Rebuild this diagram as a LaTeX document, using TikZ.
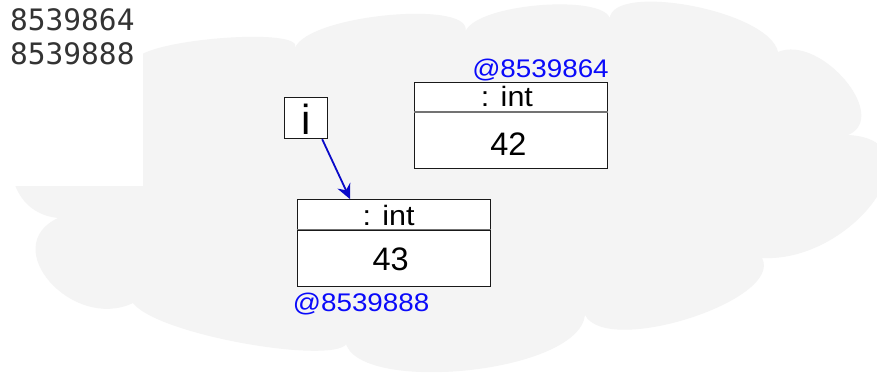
\documentclass[tikz,border=0pt]{standalone}
\usepackage{fontspec}
\setmainfont{Liberation Sans}
\newfontfamily\widefont[FakeStretch=1.09]{Liberation Sans}
\newfontfamily\consolefont{DejaVu Sans Mono}
\usetikzlibrary{arrows.meta,calc}
\definecolor{cloudgray}{RGB}{244,244,244}
\definecolor{addrblue}{RGB}{10,10,250}
\definecolor{refblue}{RGB}{10,10,200}

\begin{document}
\begin{tikzpicture}[x=1pt,y=-1pt,
  hdr/.style={draw=black!90, fill=white, line width=0.9pt, minimum width=193pt,
    minimum height=29.5pt, inner sep=0pt, anchor=north west},
  body/.style={draw=black!90, fill=white, line width=0.9pt, minimum width=193pt,
    minimum height=56pt, inner sep=0pt, anchor=north},
  divider/.style={draw=black!55, line width=1.4pt},
  typelbl/.style={font=\widefont\fontsize{28}{28}\selectfont, anchor=base, inner sep=0pt},
  vallbl/.style={font=\fontsize{32.5}{32.5}\selectfont, anchor=base, inner sep=0pt},
  addr/.style={font=\widefont\fontsize{25.5}{25.5}\selectfont, text=addrblue,
    inner sep=0pt, anchor=base west},
  console/.style={font=\consolefont\fontsize{29.5}{29.5}\selectfont, text=black!80,
    inner sep=0pt, anchor=base west},
  varbox/.style={draw=black!90, fill=white, line width=0.9pt, minimum width=43pt,
    minimum height=41pt, inner sep=0pt, anchor=north west},
  varlbl/.style={font=\fontsize{42}{42}\selectfont, anchor=base, inner sep=0pt},
  ref/.style={draw=refblue, line width=1.8pt,
    -{Stealth[length=15pt,width=14pt,inset=5pt]}}
]
\useasboundingbox (0,0) rectangle (877,372);
\fill[white] (0,0) rectangle (877,372);

% heap cloud
\fill[cloudgray] (10,160) -- (10,60) -- (135,60)
  .. controls (145.7,38.7) and (305.7,26.7) .. (295,48)
  .. controls (308.3,14) and (478.3,-1) .. (465,33)
  .. controls (472.3,2.3) and (617.3,-7.7) .. (610,23)
  .. controls (600.7,-20.3) and (768.7,8.7) .. (778,52)
  .. controls (820.7,34) and (890.7,117) .. (848,135)
  .. controls (941,139.7) and (855,262.7) .. (762,258)
  .. controls (784,300) and (607,357) .. (585,315)
  .. controls (578.3,376.3) and (338.3,396.3) .. (345,335)
  .. controls (373,371) and (161,339) .. (133,303)
  .. controls (72.3,331.7) and (-2.7,246.7) .. (58,218)
  .. controls (30,215) and (12,195) .. (10,160) -- cycle;

% console output area
\fill[white] (0,0) rectangle (143.3,185.5);
\node[console] (out1) at (10,30) {8539864};
\node[console] (out2) at (10,64.3) {8539888};

% object holding 42
\node[hdr] (h42) at (414,81.7) {};
\node[body] (b42) at (h42.south) {};
\draw[divider] (h42.south west) -- (h42.south east);
\node[typelbl] (t42) at ($(h42.south)+(-4pt,6pt)$) {: int};
\node[vallbl] (v42) at ($(b42.south)+(-2.5pt,13.4pt)$) {42};
\node[addr, anchor=base east] (a42) at ($(h42.north east)+(1pt,4.4pt)$) {@8539864};

% object holding 43
\node[hdr] (h43) at (296.7,199.3) {};
\node[body] (b43) at (h43.south) {};
\draw[divider] (h43.south west) -- (h43.south east);
\node[typelbl] (t43) at ($(h43.south)+(-5pt,4pt)$) {: int};
\node[vallbl] (v43) at ($(b43.south)+(-3pt,16.5pt)$) {43};
\node[addr] (a43) at ($(b43.south west)+(-4pt,-25pt)$) {@8539888};

% variable i and its reference
\node[varbox] (ibox) at (284.3,97.3) {};
\node[varlbl] (ilbl) at ($(ibox.south)+(0pt,5pt)$) {i};
\draw[ref] ($(ibox.south east)+(-6pt,0pt)$) -- ($(h43.north west)+(53.5pt,0pt)$);
\end{tikzpicture}
\end{document}
